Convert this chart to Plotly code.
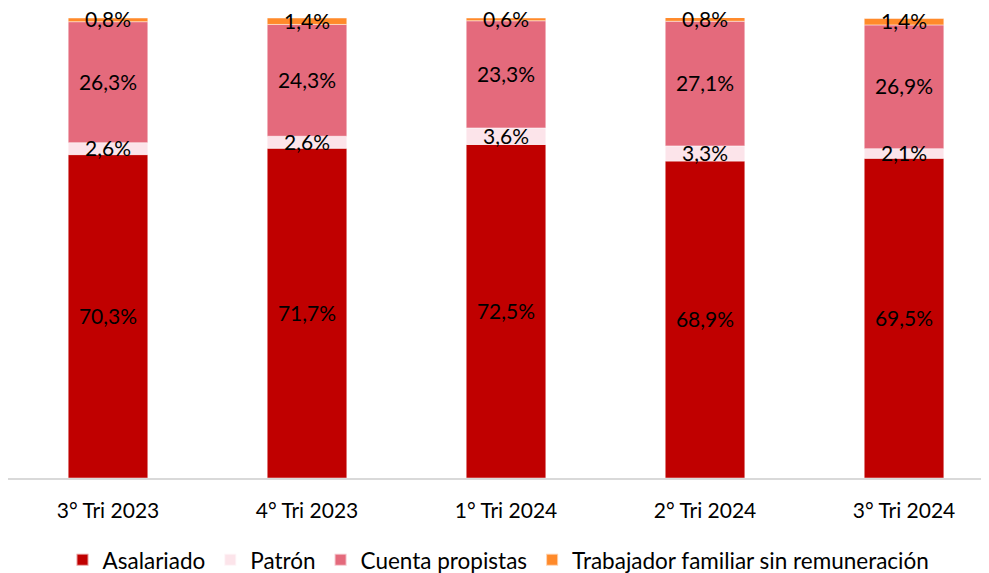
import plotly.graph_objects as go

categories = ["3° Tri 2023", "4° Tri 2023", "1° Tri 2024", "2° Tri 2024", "3° Tri 2024"]
asalariado = [70.3, 71.7, 72.5, 68.9, 69.5]
patron = [2.6, 2.6, 3.6, 3.3, 2.1]
cuenta_propistas = [26.3, 24.3, 23.3, 27.1, 26.9]
trabajador_familiar = [0.8, 1.4, 0.6, 0.8, 1.4]

series = [
    ("Asalariado", asalariado, "#C00000"),
    ("Patrón", patron, "#FCE4EA"),
    ("Cuenta propistas", cuenta_propistas, "#E46A7C"),
    ("Trabajador familiar sin remuneración", trabajador_familiar, "#FF8A2A"),
]

FONT = "Lato"
fig = go.Figure()
base = [0.0] * len(categories)
label_x, label_y, label_t = [], [], []
for name, vals, color in series:
    fig.add_trace(go.Bar(
        x=categories, y=vals, base=base, name=name,
        marker=dict(color=color, line=dict(color="rgba(255,255,255,0.6)", width=0.8)),
        width=0.4, hoverinfo="skip",
    ))
    for i, v in enumerate(vals):
        label_x.append(categories[i])
        label_y.append(base[i] + v / 2 - 0.5)
        label_t.append(f"{v:.1f}%".replace(".", ","))
    base = [b + v for b, v in zip(base, vals)]

fig.add_trace(go.Scatter(
    x=label_x, y=label_y, text=label_t, mode="text",
    textfont=dict(family=FONT, size=21, color="#000000"),
    showlegend=False, hoverinfo="skip", cliponaxis=False,
))

fig.update_layout(
    width=981, height=565,
    margin=dict(l=0, r=0, t=10, b=95, autoexpand=False),
    barmode="overlay",
    plot_bgcolor="white", paper_bgcolor="white",
    font=dict(family=FONT, size=20, color="#000000"),
    showlegend=True,
    legend=dict(orientation="h", x=0.5, xanchor="center", y=-0.132, yanchor="top",
                font=dict(family=FONT, size=22.5, color="#000000"),
                traceorder="normal", itemsizing="constant"),
)
fig.update_xaxes(
    type="category", range=[-0.5025, 4.427],
    showline=True, linecolor="#D9D9D9", linewidth=1.5,
    showgrid=False, ticks="", ticklabelstandoff=13,
    tickfont=dict(family=FONT, size=21, color="#000000"),
)
fig.update_yaxes(range=[0, 100], visible=False, showgrid=False)

fig.write_html("out.html")
